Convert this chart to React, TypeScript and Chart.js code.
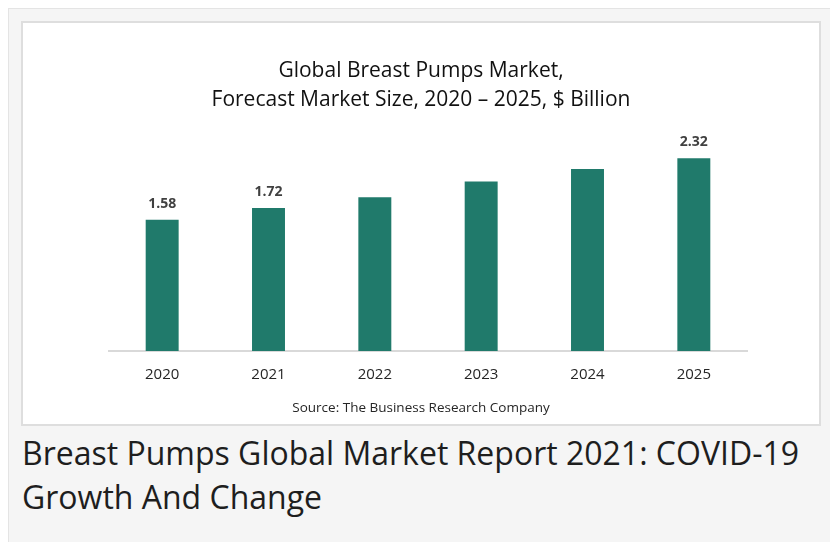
import React, { useEffect, useRef } from "react";
import { Chart, registerables } from "chart.js";

Chart.register(...registerables);

const categories = ["2020", "2021", "2022", "2023", "2024", "2025"];
const marketSize = [1.58, 1.72, 1.85, 2.04, 2.19, 2.32];
const showValueLabel = [true, true, false, false, false, true];
const titleLines = ["Global Breast Pumps Market,", "Forecast Market Size, 2020 \u2013 2025, $ Billion"];
const sourceText = "Source: The Business Research Company";
const headingText = "Breast Pumps Global Market Report 2021: COVID-19 Growth And Change";

const barColor = "#207a6b";

const valueLabelPlugin = {
  id: "valueLabels",
  afterDatasetsDraw(chart: any) {
    const ctx = chart.ctx;
    const meta = chart.getDatasetMeta(0);
    ctx.save();
    ctx.font = "bold 14px 'Open Sans'";
    ctx.fillStyle = "#404040";
    ctx.textAlign = "center";
    ctx.textBaseline = "middle";
    meta.data.forEach((bar: any, i: number) => {
      if (!showValueLabel[i]) return;
      ctx.fillText(marketSize[i].toFixed(2), bar.x, bar.y - 16);
    });
    ctx.restore();
  },
};

export default function App() {
  const canvasRef = useRef<HTMLCanvasElement>(null);

  useEffect(() => {
    if (!canvasRef.current) return;
    const chart = new Chart(canvasRef.current, {
      type: "bar",
      data: {
        labels: categories,
        datasets: [
          {
            data: marketSize,
            backgroundColor: barColor,
            borderWidth: 0,
            barPercentage: 0.31,
            categoryPercentage: 1,
          },
        ],
      },
      options: {
        animation: false,
        responsive: true,
        maintainAspectRatio: false,
        layout: { padding: { left: 86, right: 72, top: 112, bottom: 25 } },
        plugins: {
          legend: { display: false },
          tooltip: { enabled: false },
          title: { display: false },
        },
        scales: {
          x: {
            grid: { display: false, drawTicks: false },
            border: { display: true, color: "#d9d9d9", width: 2 },
            ticks: {
              color: "#262626",
              font: { family: "'Open Sans'", size: 15 },
              padding: 15,
            },
          },
          y: {
            display: false,
            min: 0,
            max: 2.6,
          },
        },
      },
      plugins: [valueLabelPlugin],
    });
    return () => chart.destroy();
  }, []);

  return (
    <div style={{ position: "relative", width: 838, height: 550, overflow: "hidden", margin: -8 }}>
      <div
        style={{
          position: "absolute",
          left: 7,
          top: 7,
          width: 830,
          height: 560,
          boxSizing: "border-box",
          border: "2px solid #e4e4e4",
          background: "#f5f5f5",
        }}
      />
      <div
        style={{
          position: "absolute",
          left: 21,
          top: 21,
          width: 800,
          height: 405,
          boxSizing: "border-box",
          border: "2px solid #dedede",
          background: "#ffffff",
        }}
      >
        <div style={{ position: "absolute", left: 0, top: 0, width: 796, height: 401 }}>
          <canvas ref={canvasRef} />
        </div>
        <div
          style={{
            position: "absolute",
            left: 0,
            width: 796,
            top: 32,
            textAlign: "center",
            fontFamily: "'Open Sans'",
            fontSize: 21,
            lineHeight: "29px",
            color: "#111",
          }}
        >
          {titleLines.map((t, i) => (
            <div key={i}>{t}</div>
          ))}
        </div>
        <div
          style={{
            position: "absolute",
            left: 0,
            width: 796,
            top: 374,
            textAlign: "center",
            fontFamily: "'Open Sans'",
            fontSize: 13.5,
            lineHeight: "20px",
            color: "#262626",
          }}
        >
          {sourceText}
        </div>
      </div>
      <div
        style={{
          position: "absolute",
          left: 22,
          top: 431,
          width: 800,
          fontFamily: "'Open Sans'",
          fontSize: 32,
          lineHeight: "44px",
          color: "#1e1e1e",
        }}
      >
        {headingText}
      </div>
    </div>
  );
}
